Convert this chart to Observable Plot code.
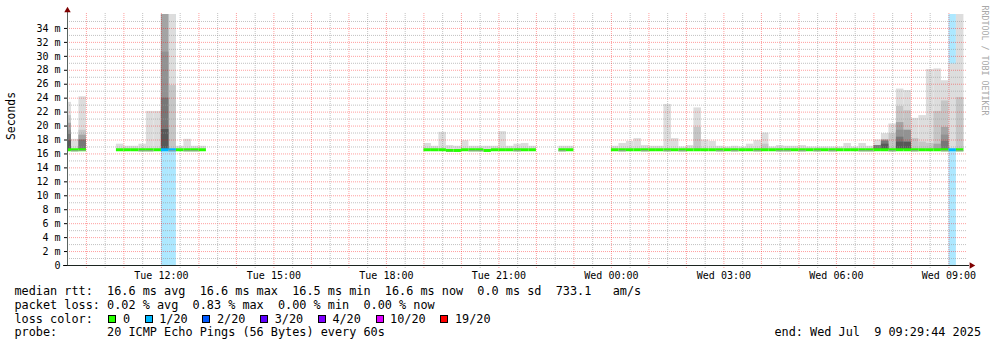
<!DOCTYPE html>
<html>
<head>
<meta charset="utf-8">
<script src="https://cdn.jsdelivr.net/npm/d3@7"></script>
<script src="https://cdn.jsdelivr.net/npm/@observablehq/plot@0.6"></script>
<style>
html,body{margin:0;padding:0;background:#fff;}
#wrap{position:relative;width:997px;height:347px;overflow:hidden;font-family:"DejaVu Sans Mono",monospace;color:#000;background:#fff;}
#wrap svg{position:absolute;left:0;top:0;}
.t{position:absolute;white-space:pre;font-size:11.84px;line-height:14px;}
.sq{position:absolute;box-sizing:border-box;width:8px;height:8px;border:1px solid #000;}
</style>
</head>
<body>
<div id="wrap"></div>
<script>
const _ = null;

// ---- time window ----
const windowStart = "2025-07-08T09:29:44Z";
const windowEnd   = "2025-07-09T09:29:44Z";
const binMinutes = 12;

// ---- 12-minute bins with data ("DD HH:MM", July 2025, UTC) ----
const binTime = [
  "08 09:24","08 09:36","08 09:48",
  "08 10:48","08 11:00","08 11:12","08 11:24","08 11:36","08 11:48","08 12:00","08 12:12","08 12:24","08 12:36","08 12:48","08 13:00",
  "08 19:00","08 19:12","08 19:24","08 19:36","08 19:48","08 20:00","08 20:12","08 20:24","08 20:36","08 20:48","08 21:00","08 21:12","08 21:24","08 21:36","08 21:48",
  "08 22:36","08 22:48",
  "09 00:00","09 00:12","09 00:24","09 00:36","09 00:48",
  "09 01:00","09 01:12","09 01:24","09 01:36","09 01:48",
  "09 02:00","09 02:12","09 02:24","09 02:36","09 02:48",
  "09 03:00","09 03:12","09 03:24","09 03:36","09 03:48",
  "09 04:00","09 04:12","09 04:24","09 04:36","09 04:48",
  "09 05:00","09 05:12","09 05:24","09 05:36","09 05:48",
  "09 06:00","09 06:12","09 06:24","09 06:36","09 06:48",
  "09 07:00","09 07:12","09 07:24","09 07:36","09 07:48",
  "09 08:00","09 08:12","09 08:24","09 08:36","09 08:48",
  "09 09:00","09 09:12"
];

// median rtt (ms)
const median = [
  16.6,16.6,16.6,
  16.6,16.6,16.6,16.6,16.6,16.6,16.6,16.6,16.6,16.6,16.6,16.6,
  16.6,16.6,16.6,16.5,16.5,16.6,16.6,16.6,16.5,16.6,16.6,16.6,16.6,16.6,16.6,
  16.6,16.6,
  16.6,16.6,16.6,16.6,16.6,
  16.6,16.6,16.6,16.6,16.6,
  16.6,16.6,16.6,16.6,16.6,
  16.6,16.6,16.6,16.6,16.6,
  16.6,16.6,16.6,16.6,16.6,
  16.6,16.6,16.6,16.6,16.6,
  16.6,16.6,16.6,16.6,16.6,
  16.6,16.6,16.6,16.6,16.6,
  16.6,16.6,16.6,16.6,16.6,
  16.6,16.6
];

// lost pings (of 20)
const loss = [
  0,0,0,
  0,0,0,0,0,0,1,1,0,0,0,0,
  0,0,0,0,0,0,0,0,0,0,0,0,0,0,0,
  0,0,
  0,0,0,0,0, 0,0,0,0,0, 0,0,0,0,0, 0,0,0,0,0, 0,0,0,0,0,
  0,0,0,0,0, 0,0,0,0,0, 0,0,0,0,0, 0,0,0,0,0,
  1,0
];

// smoke: upper edge of each band, outermost (lightest) to innermost (darkest), ms
const smoke1 = [
  23.4,18.1,24.2,
  17.4,17.1,17.1,17.4,22.1,22.1,40,40,17.1,18.1,17.1,17.1,
  17.5,17.1,19.1,17.2,17.1,17.9,17.1,17.1,17.1,17.1,19.2,17.1,17.4,17.5,17.1,
  17.1,17.1,
  17.1,17.5,17.8,18.2,17.2,
  17.1,17.1,23.1,18.2,17.0,
  17.2,22.6,18.0,17.8,17.1,
  17.0,17.1,17.0,17.4,17.9,
  19.0,17.0,17.2,17.1,17.1,
  17.2,17.0,17.0,17.0,17.0,
  17.0,17.5,17.0,17.5,17.1,
  18.0,18.9,20.3,25.3,25.1,
  21.1,21.5,28.1,28.2,26.5,
  28.9,40
];
const smoke2 = [
  21.5,_,19.4,
  _,_,_,_,_,_,40,25.8,_,_,_,_,
  _,_,_,_,_,_,_,_,_,_,_,_,_,_,_,
  _,_,
  _,_,_,_,_, _,_,_,_,_, _,19.8,_,_,_, _,_,_,_,_, 17.4,_,_,_,_,
  _,_,_,_,_, _,_,_,_,_, _,_,18.9,22.8,22.2, 18.2,17.7,17.5,22.1,23.6,
  _,24.1
];
const smoke3 = [
  20.4,_,18.7,
  _,_,_,_,_,_,40,_,_,_,_,_,
  _,_,_,_,_,_,_,_,_,_,_,_,_,_,_,
  _,_,
  _,_,_,_,_, _,_,_,_,_, _,_,_,_,_, _,_,_,_,_, _,_,_,_,_,
  _,_,_,_,_, _,_,_,_,_, _,_,_,20.5,_, _,_,_,17.4,19.8,
  _,_
];
const smoke4 = [
  19.4,_,_,
  _,_,_,_,_,_,30.6,_,_,_,_,_,
  _,_,_,_,_,_,_,_,_,_,_,_,_,_,_,
  _,_,
  _,_,_,_,_, _,_,_,_,_, _,_,_,_,_, _,_,_,_,_, _,_,_,_,_,
  _,_,_,_,_, _,_,_,_,_, _,18.0,_,19.4,19.4, _,_,_,_,18.7,
  _,_
];
const smoke5 = [
  18.8,_,18.0,
  _,_,_,_,_,_,24.0,_,_,_,_,_,
  _,_,_,_,_,_,_,_,_,_,_,_,_,_,_,
  _,_,
  _,_,_,_,_, _,_,_,_,_, _,_,_,_,_, _,_,_,_,_, _,_,_,_,_,
  _,_,_,_,_, _,_,_,_,_, 17.2,17.8,_,18.4,_, _,_,_,_,17.8,
  _,_
];
const smoke6 = [
  17.9,_,_,
  _,_,_,_,_,_,19.5,_,_,_,_,_,
  _,_,_,_,_,_,_,_,_,_,_,_,_,_,_,
  _,_,
  _,_,_,_,_, _,_,_,_,_, _,_,_,_,_, _,_,_,_,_, _,_,_,_,_,
  _,_,_,_,_, _,_,_,_,_, _,17.4,_,17.7,17.7, _,_,_,_,_,
  _,_
];
// smoke below the median (lower edge, ms)
const smokeLow = [
  _,16.3,16.35,
  _,_,_,16.3,16.3,_,_,16.3,_,16.3,16.3,_,
  _,_,_,16.3,_,_,16.3,16.3,_,_,_,_,16.3,_,_,
  16.3,_,
  _,16.3,_,_,16.3,
  _,_,16.3,_,16.3,
  _,_,_,_,16.3,
  _,16.3,_,_,16.3,
  _,_,16.3,16.3,_,
  16.3,_,16.3,_,16.3,
  _,_,_,16.3,16.3,
  _,_,16.3,_,_,
  16.3,_,_,_,16.3,
  _,16.3
];

const smokeColors = ["#dddddd","#c6c6c6","#a4a4a4","#929292","#777777","#585858"];

// loss colour legend
const lossThresholds = [0,1,2,3,4,10,19];
const lossLabels = ["0","1/20","2/20","3/20","4/20","10/20","19/20"];
const lossColors = ["#26ff00","#00b8ff","#0059ff","#5e00ff","#7e00ff","#dd00ff","#ff0000"];

// axes
const yTicks = d3.range(0, 35, 2);
const xTicks = ["2025-07-08T12:00Z","2025-07-08T15:00Z","2025-07-08T18:00Z","2025-07-08T21:00Z",
                "2025-07-09T00:00Z","2025-07-09T03:00Z","2025-07-09T06:00Z","2025-07-09T09:00Z"].map(s => new Date(s));

// legend text
const statLines = [
  "median rtt:  16.6 ms avg  16.6 ms max  16.5 ms min  16.6 ms now  0.0 ms sd  733.1   am/s",
  "packet loss: 0.02 % avg  0.83 % max  0.00 % min  0.00 % now"
];
const lossTitle = "loss color:";
const probeLine = "probe:       20 ICMP Echo Pings (56 Bytes) every 60s";
const endLine = "end: Wed Jul  9 09:29:44 2025";
const yLabel = "Seconds";
const sideLabel = "RRDTOOL / TOBI OETIKER";

// ---- build ----
const t0 = new Date(windowStart), t1 = new Date(windowEnd);
const BIN = binMinutes * 60000;
const lossColor = n => { let c = lossColors[0]; lossThresholds.forEach((t, i) => { if (n >= t) c = lossColors[i]; }); return c; };
const bins = binTime.map((s, i) => ({
  t: new Date(`2025-07-${s.slice(0,2)}T${s.slice(3)}:00Z`),
  median: median[i], loss: loss[i],
  tiers: [smoke1[i], smoke2[i], smoke3[i], smoke4[i], smoke5[i], smoke6[i]],
  low: smokeLow[i]
}));
const xEnd = d => new Date(+d.t + BIN);

const halfHours = d3.utcMinute.every(30).range(t0, t1).filter(d => d - t0 > 60000);
const hourLines = halfHours.filter(d => d.getUTCMinutes() === 0);
const halfLines = halfHours.filter(d => d.getUTCMinutes() === 30);
const yGrid = d3.range(1, 36);

const marks = [];
// loss background
marks.push(Plot.rect(bins.filter(d => d.loss > 0), {
  x1: "t", x2: xEnd, y1: 0, y2: 36, fill: d => lossColor(d.loss), fillOpacity: 0.32, clip: true
}));
// smoke bands
smokeColors.forEach((c, k) => {
  marks.push(Plot.rect(bins.filter(d => d.tiers[k] != null), {
    x1: "t", x2: xEnd, y1: "median", y2: d => d.tiers[k], fill: c, clip: true
  }));
});
// grid
marks.push(Plot.ruleY(yGrid.filter(d => d % 2 === 1), {stroke: "#9a9a9a", strokeOpacity: 0.6, strokeDasharray: "1,1"}));
marks.push(Plot.ruleY(yGrid.filter(d => d % 2 === 0), {stroke: "#ff0000", strokeOpacity: 0.38, strokeDasharray: "1,1"}));
marks.push(Plot.ruleX(halfLines, {stroke: "#9a9a9a", strokeOpacity: 0.6, strokeDasharray: "1,1", insetTop: -1, insetBottom: -3}));
marks.push(Plot.ruleX(hourLines, {stroke: "#ff0000", strokeOpacity: 0.38, strokeDasharray: "1,1", insetTop: -1, insetBottom: -3}));
// median line coloured by loss
marks.push(Plot.ruleY(bins, {
  y: "median", x1: "t", x2: xEnd, stroke: d => lossColor(d.loss), strokeWidth: 3, clip: true
}));
// smoke below median
marks.push(Plot.rect(bins.filter(d => d.low != null), {
  x1: "t", x2: xEnd, y1: "low", y2: d => d.median - 0.15, fill: "#9c9c9c", clip: true
}));
// axis lines and arrows
marks.push(Plot.ruleX([t0], {stroke: "#5a6460", insetTop: -3}));
marks.push(Plot.ruleY([0], {stroke: "#1c2420", insetLeft: -4, insetRight: -2}));
marks.push(Plot.dot([t0], {x: d => d, y: 36, symbol: "triangle", r: 2.4, fill: "#7f0000", stroke: "none", dy: -4}));
marks.push(Plot.dot([t1], {x: d => d, y: 0, symbol: "triangle", r: 2.4, fill: "#7f0000", stroke: "none", dx: 4, rotate: 90}));
// axes
marks.push(Plot.axisY({ticks: yTicks, tickFormat: d => d === 0 ? "0" : `${d} m`, tickSize: 3, tickPadding: 4,
  fontSize: 10, label: null, color: "#000"}));
marks.push(Plot.axisX({ticks: xTicks, tickFormat: d3.utcFormat("%a %H:%M"), tickSize: 0, tickPadding: 6,
  fontSize: 10, label: null, color: "#000"}));
// side texts
marks.push(Plot.text([yLabel], {text: d => d, frameAnchor: "left", dx: -56, rotate: -90, fontSize: 11.4, fill: "#000"}));
marks.push(Plot.text([sideLabel], {text: d => d, frameAnchor: "top-right", dx: 20, dy: -9, rotate: 90,
  textAnchor: "start", fontSize: 8.3, fill: "#a8a8a8"}));

const chart = Plot.plot({
  width: 997, height: 282,
  marginLeft: 67, marginRight: 30, marginTop: 14, marginBottom: 17,
  x: {type: "utc", domain: [t0, t1]},
  y: {domain: [0, 36]},
  color: {type: "identity"},
  style: {fontFamily: "'DejaVu Sans Mono', monospace", fontSize: "10px", background: "#fff", color: "#000", overflow: "visible"},
  marks
});

const wrap = document.getElementById("wrap");
wrap.appendChild(chart);

function addText(txt, left, top, extra) {
  const el = document.createElement("div");
  el.className = "t";
  el.textContent = txt;
  el.style.left = left + "px";
  el.style.top = top + "px";
  if (extra) Object.assign(el.style, extra);
  wrap.appendChild(el);
  return el;
}
const charW = 7.13, textLeft = 14.5;
addText(statLines[0], textLeft, 284);
addText(statLines[1], textLeft, 297.8);
addText(lossTitle, textLeft, 311.7);
let lx = 108.3;
lossLabels.forEach((lab, i) => {
  const sq = document.createElement("div");
  sq.className = "sq";
  sq.style.left = lx + "px";
  sq.style.top = "315px";
  sq.style.background = lossColors[i];
  wrap.appendChild(sq);
  addText(lab, lx + 14.6, 311.7);
  lx += 14.6 + lab.length * charW + 14.6;
});
addText(probeLine, textLeft, 325.4);
addText(endLine, 0, 325.4, {left: "auto", right: "16px"});
</script>
</body>
</html>
